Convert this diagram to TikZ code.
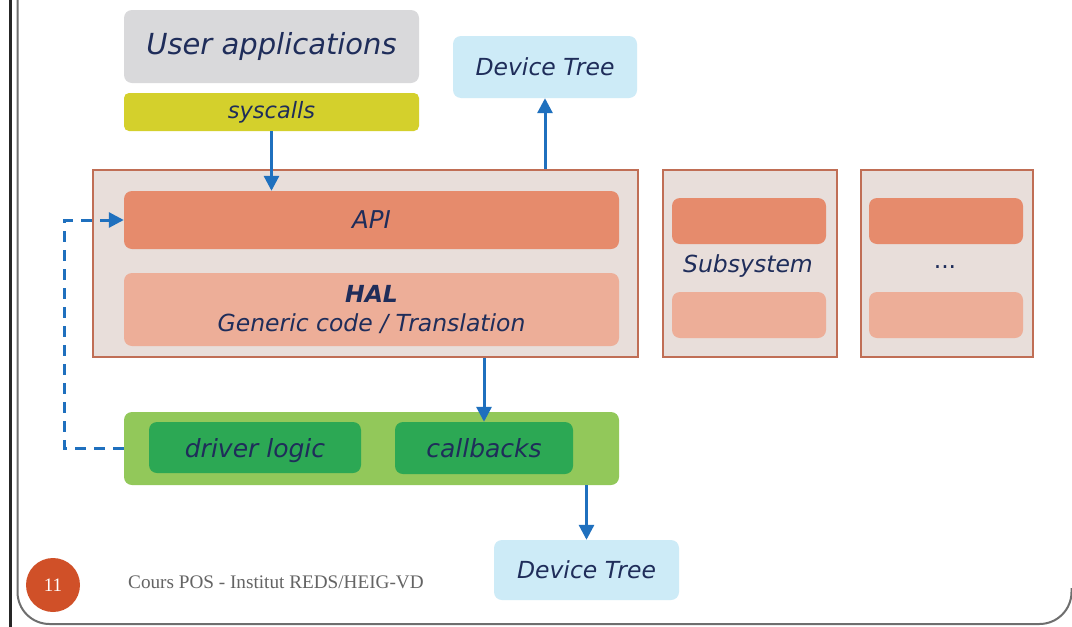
\documentclass[tikz,border=0pt]{standalone}
\usepackage{fontspec}
\setmainfont{DejaVu Sans}
\newfontfamily\footfont{Liberation Serif}
\usetikzlibrary{arrows.meta}
\definecolor{txt}{RGB}{31,45,90}
\definecolor{usergray}{RGB}{217,217,219}
\definecolor{sysyel}{RGB}{212,208,44}
\definecolor{dtblue}{RGB}{205,235,247}
\definecolor{bigfill}{RGB}{232,222,218}
\definecolor{bigline}{RGB}{192,110,85}
\definecolor{apic}{RGB}{230,139,108}
\definecolor{halc}{RGB}{237,174,152}
\definecolor{greenout}{RGB}{146,200,90}
\definecolor{greenin}{RGB}{44,168,84}
\definecolor{arrblue}{RGB}{31,112,190}
\definecolor{circc}{RGB}{208,80,40}
\definecolor{foottxt}{RGB}{100,100,100}
\definecolor{framegray}{RGB}{110,110,110}
\tikzset{
  box/.style={rectangle, rounded corners=8pt, inner sep=0pt, text=txt, font=\itshape\fontsize{23.5}{28}\selectfont, align=center},
  panel/.style={rectangle, inner sep=0pt, fill=bigfill, draw=bigline, line width=1.3pt},
  arr/.style={draw=arrblue, line width=3pt, -{Triangle[length=15pt,width=15pt]}},
  dasharr/.style={draw=arrblue, line width=3pt, dash pattern=on 11pt off 8pt, -{Triangle[length=15pt,width=15pt]}},
}
\begin{document}
\begin{tikzpicture}[x=1pt,y=-1pt]
\useasboundingbox (0,0) rectangle (1072,627);
\fill[white] (0,0) rectangle (1072,627);
% frame
\draw[black!85, line width=3pt] (10.5,0) -- (10.5,627);
\begin{scope}
\clip (0,0) rectangle (1072,627);
\draw[framegray, line width=2pt, rounded corners=32pt] (17.5,0) -- (17.5,624) -- (1071.5,624) -- (1071.5,588);
\end{scope}
% top boxes
\node[box, fill=usergray, minimum width=295pt, minimum height=73pt, font=\itshape\fontsize{29}{34}\selectfont] (user) at (271.5,46.5) {User applications};
\node[box, rounded corners=5pt, fill=sysyel, minimum width=295pt, minimum height=38pt, font=\itshape\fontsize{22.5}{27}\selectfont] (sys) at (271.5,112) {syscalls};
\node[box, fill=dtblue, minimum width=184pt, minimum height=62pt] (dtt) at (545,67) {Device Tree};
% main panel
\node[panel, minimum width=545pt, minimum height=187pt] (big) at (365.5,263.5) {};
\node[box, fill=apic, minimum width=495pt, minimum height=58pt, font=\itshape\fontsize{24.5}{28}\selectfont] (api) at (371.5,220) {API};
\node[box, fill=halc, minimum width=495pt, minimum height=73pt] (hal) at (371.5,309.5) {\textbf{HAL}\\[1pt]Generic code / Translation};
% subsystem panels
\node[panel, minimum width=174pt, minimum height=187pt] (sub1) at (750,263.5) {};
\node[box, fill=apic, minimum width=154pt, minimum height=46pt] (sub1a) at (749,221) {};
\node[box, fill=halc, minimum width=154pt, minimum height=46pt] (sub1b) at (749,315) {};
\node[box] (sub1t) at (748,266) {Subsystem};
\node[panel, minimum width=172pt, minimum height=187pt] (sub2) at (947,263.5) {};
\node[box, fill=apic, minimum width=154pt, minimum height=46pt] (sub2a) at (946,221) {};
\node[box, fill=halc, minimum width=154pt, minimum height=46pt] (sub2b) at (946,315) {};
\node[box, font=\fontsize{23.5}{28}\selectfont] (sub2t) at (945,267) {...};
% driver
\node[box, fill=greenout, minimum width=495pt, minimum height=73pt] (green) at (371.5,448.5) {};
\node[box, fill=greenin, minimum width=212pt, minimum height=51pt, text depth=0pt, font=\itshape\fontsize{25}{30}\selectfont] (drv) at (255,447.5) {driver logic};
\node[box, fill=greenin, minimum width=178pt, minimum height=52pt, text depth=0pt, font=\itshape\fontsize{25}{30}\selectfont] (cb) at (484,448) {callbacks};
\node[box, fill=dtblue, minimum width=185pt, minimum height=60pt] (dtb) at (586.5,570) {Device Tree};
% footer
\node[circle, fill=circc, minimum size=54pt, inner sep=0pt, text=white, font=\footfont\fontsize{19}{22}\selectfont] (num) at (53,585) {11};
\node[anchor=west, inner sep=0pt, text=foottxt, font=\footfont\fontsize{19.2}{22}\selectfont] (foot) at (128,582) {Cours POS - Institut REDS/HEIG-VD};
% connectors
\draw[arr] (sys.south) -- (sys.south |- api.north);
\draw[arr] (big.north -| dtt.south) -- (dtt.south);
\draw[arr] (cb.north |- big.south) -- (cb.north);
\draw[arr] (dtb.north |- green.south) -- (dtb.north);
\draw[dasharr] (green.west) -- ++(-59,0) |- (api.west);
\end{tikzpicture}
\end{document}
